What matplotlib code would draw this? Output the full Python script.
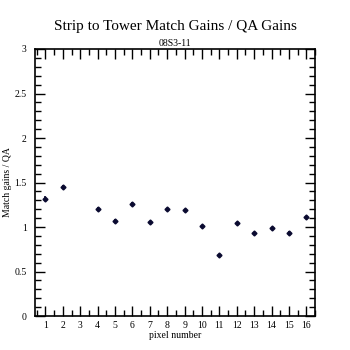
import matplotlib
matplotlib.use("Agg")
import matplotlib.pyplot as plt
from matplotlib.ticker import MultipleLocator

pixels = [1, 2, 4, 5, 6, 7, 8, 9, 10, 11, 12, 13, 14, 15, 16]
gains = [1.32, 1.45, 1.20, 1.07, 1.26, 1.06, 1.20, 1.19, 1.01, 0.69, 1.05, 0.93, 0.985, 0.93, 1.11]
errors = [0.03, 0.025, 0.025, 0.025, 0.025, 0.01, 0.015, 0.01, 0.01, 0.01, 0.01, 0.01, 0.01, 0.025, 0.01]
xticks = list(range(1, 17))
yticks = [0, 0.5, 1, 1.5, 2, 2.5, 3]
ylabels = ["0", "0.5", "1", "1.5", "2", "2.5", "3"]

plt.rcParams["font.family"] = ["Liberation Serif", "DejaVu Serif"]

fig = plt.figure(figsize=(3.5, 3.5), dpi=100)
ax = fig.add_axes([0.1, 0.097, 0.8, 0.763])
ax.errorbar(pixels, gains, yerr=errors, fmt="D", color="#0a0a30", markersize=2.5,
            elinewidth=1.2, capsize=0)

ax.set_xlim(0.4, 16.5)
ax.set_ylim(0, 3)
ax.set_xticks(xticks)
ax.xaxis.set_minor_locator(MultipleLocator(0.5))
ax.set_yticks(yticks)
ax.set_yticklabels(ylabels)
ax.yaxis.set_minor_locator(MultipleLocator(0.1))
ax.tick_params(which="both", direction="in", top=True, right=True, labelsize=7, width=1)
ax.tick_params(which="major", length=7)
ax.tick_params(which="minor", length=4)
ax.tick_params(axis="y", pad=6)
for s in ax.spines.values():
    s.set_linewidth(1.2)

ax.set_xlabel("pixel number", fontsize=7, labelpad=1)
ax.set_ylabel("Match gains / QA", fontsize=7)
ax.yaxis.set_label_coords(-0.082, 0.5)
fig.text(0.5, 0.913, "Strip to Tower Match Gains / QA Gains", ha="center", fontsize=11)
fig.text(0.5, 0.868, "08S3-11", ha="center", fontsize=7)

fig.savefig("out.png", dpi=100)
